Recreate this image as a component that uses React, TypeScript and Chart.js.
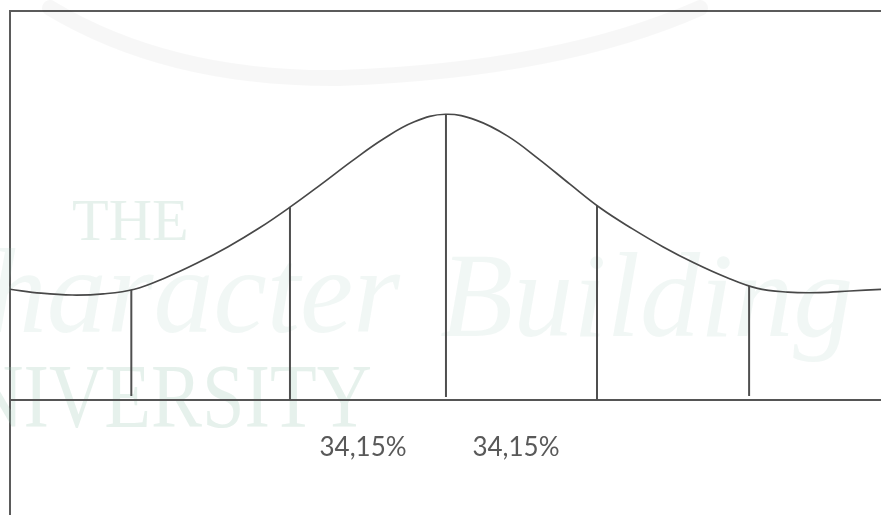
import React, { useEffect, useRef } from "react";
import { Chart, registerables } from "chart.js";

Chart.register(...registerables);

// Bell curve (x in standard deviations, y as density)
const curveX = [-2.8, -2.6, -2.4, -2.2, -2.0, -1.8, -1.6, -1.4, -1.2, -1.0, -0.8, -0.6, -0.4, -0.2, 0.0, 0.2, 0.4, 0.6, 0.8, 1.0, 1.2, 1.4, 1.6, 1.8, 2.0, 2.2, 2.4, 2.6, 2.8];
const curveY = [0.1544, 0.149, 0.1464, 0.148, 0.1545, 0.1706, 0.1906, 0.2134, 0.2394, 0.2689, 0.3007, 0.3335, 0.364, 0.388, 0.3985, 0.39, 0.368, 0.336, 0.301, 0.267, 0.239, 0.2135, 0.191, 0.1715, 0.156, 0.1505, 0.1497, 0.152, 0.1544];

// Vertical separators (mean and ± sigma marks)
const markX = [-2.02, -1.0, 0.003, 0.974, 1.952];
const markTop = [0.1534, 0.2689, 0.3985, 0.2712, 0.159];
const markBottom = [0.0056, 0, 0.004, 0, 0.0056];

// Percentage labels under the curve
const labelText = ["34,15%", "34,15%"];
const labelX = [-0.53, 0.453];
const labelY = [-0.067, -0.067];

// Axis ranges
const xMin = -2.8;
const xMax = 2.8;
const yMin = -0.1604;
const yMax = 0.5425;

const watermarkPlugin = {
  id: "watermark",
  beforeDatasetsDraw(chart: any) {
    const ctx = chart.ctx;
    ctx.save();
    // faint grey swoosh of the logo at the top
    ctx.strokeStyle = "rgba(0,0,0,0.03)";
    ctx.lineWidth = 16;
    ctx.lineCap = "round";
    ctx.beginPath();
    ctx.moveTo(50, 8);
    ctx.quadraticCurveTo(170, 80, 340, 78);
    ctx.quadraticCurveTo(560, 70, 700, 8);
    ctx.stroke();

    ctx.fillStyle = "rgba(150,195,175,0.24)";
    ctx.textBaseline = "alphabetic";
    ctx.font = "60px 'Liberation Serif'";
    ctx.textAlign = "left";
    ctx.fillText("THE", 72, 240);
    ctx.save();
    ctx.translate(372, 427);
    ctx.scale(0.85, 1);
    ctx.font = "90px 'Liberation Serif'";
    ctx.textAlign = "right";
    ctx.fillText("UNIVERSITY", 0, 0);
    ctx.restore();

    ctx.fillStyle = "rgba(150,195,175,0.13)";
    ctx.font = "italic 120px 'Liberation Serif'";
    ctx.textAlign = "right";
    ctx.fillText("Character", 400, 332);
    ctx.textAlign = "left";
    ctx.fillText("Building", 440, 336);
    ctx.restore();
  },
};

const labelPlugin = {
  id: "pctLabels",
  afterDatasetsDraw(chart: any) {
    const ctx = chart.ctx;
    const xs = chart.scales.x;
    const ys = chart.scales.y;
    ctx.save();
    ctx.font = "26px Lato";
    ctx.fillStyle = "#595959";
    ctx.textAlign = "center";
    ctx.textBaseline = "middle";
    labelText.forEach((t, i) => {
      ctx.fillText(t, xs.getPixelForValue(labelX[i]), ys.getPixelForValue(labelY[i]));
    });
    ctx.restore();
  },
};

export default function App() {
  const ref = useRef<HTMLCanvasElement | null>(null);

  useEffect(() => {
    if (!ref.current) return;
    const curve = curveX.map((x, i) => ({ x, y: curveY[i] }));
    const marks = markX.map((x, i) => ({
      label: "mark" + i,
      data: [
        { x, y: markBottom[i] },
        { x, y: markTop[i] },
      ],
      borderColor: "#4f4f4f",
      borderWidth: 2,
      pointRadius: 0,
      tension: 0,
    }));
    const chart = new Chart(ref.current, {
      type: "line",
      data: {
        datasets: [
          {
            label: "curve",
            data: curve,
            borderColor: "#484848",
            borderWidth: 1.7,
            pointRadius: 0,
            tension: 0.4,
          } as any,
          ...marks,
          {
            label: "baseline",
            data: [
              { x: xMin, y: 0 },
              { x: xMax, y: 0 },
            ],
            borderColor: "#555555",
            borderWidth: 2.2,
            pointRadius: 0,
          },
        ],
      },
      options: {
        animation: false,
        responsive: false,
        clip: false as any,
        layout: { padding: { left: 10, top: 11, right: 0, bottom: 0 } },
        plugins: {
          legend: { display: false },
          tooltip: { enabled: false },
          title: { display: false },
        },
        scales: {
          x: {
            type: "linear",
            position: "top",
            min: xMin,
            max: xMax,
            ticks: { display: false },
            grid: { display: false, drawTicks: false },
            border: { display: true, color: "#5b5b5b", width: 2 },
          },
          y: {
            type: "linear",
            min: yMin,
            max: yMax,
            ticks: { display: false },
            grid: { display: false, drawTicks: false },
            border: { display: true, color: "#5b5b5b", width: 2 },
          },
        },
      },
      plugins: [watermarkPlugin, labelPlugin],
    });
    return () => chart.destroy();
  }, []);

  return (
    <div style={{ position: "absolute", left: 0, top: 0, width: 881, height: 515, background: "#ffffff" }}>
      <canvas ref={ref} width={881} height={515} style={{ display: "block" }} />
    </div>
  );
}
